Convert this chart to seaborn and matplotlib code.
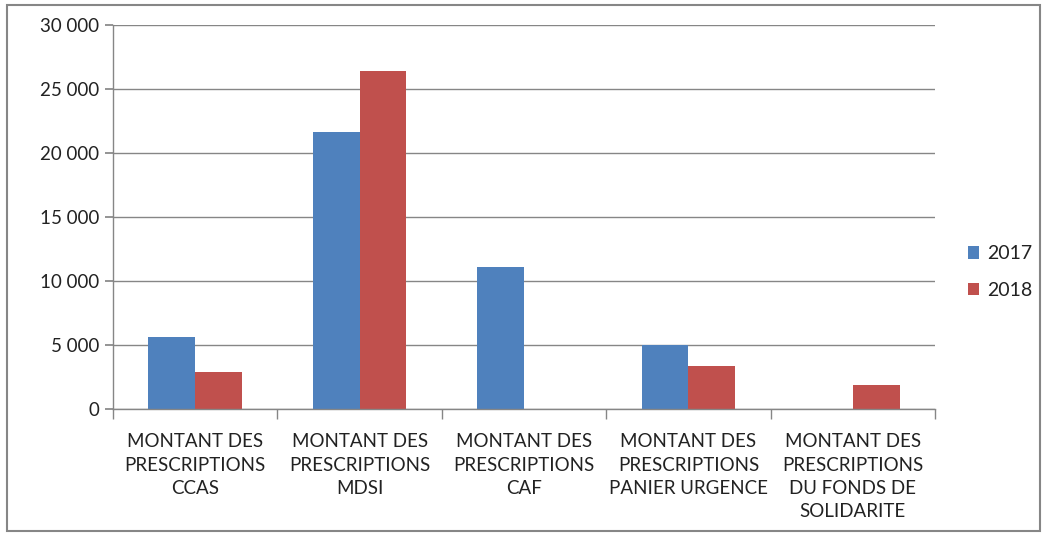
import matplotlib
matplotlib.use("Agg")
import matplotlib.pyplot as plt
import matplotlib.ticker as mticker
from matplotlib.patches import Rectangle
import seaborn as sns
import pandas as pd
import numpy as np

categories = [
    "MONTANT DES\nPRESCRIPTIONS\nCCAS",
    "MONTANT DES\nPRESCRIPTIONS\nMDSI",
    "MONTANT DES\nPRESCRIPTIONS\nCAF",
    "MONTANT DES\nPRESCRIPTIONS\nPANIER URGENCE",
    "MONTANT DES\nPRESCRIPTIONS\nDU FONDS DE\nSOLIDARITE",
]
values_2017 = [5650, 21640, 11060, 5000, 0]
values_2018 = [2910, 26420, 0, 3380, 1900]
series = ["2017", "2018"]
colors = ["#4F81BD", "#C0504D"]
y_ticks = [0, 5000, 10000, 15000, 20000, 25000, 30000]

df = pd.DataFrame({
    "cat": categories * 2,
    "year": [series[0]] * len(categories) + [series[1]] * len(categories),
    "val": values_2017 + values_2018,
})

sns.set_theme(style="white")
plt.rcParams["font.family"] = ["Lato", "DejaVu Sans"]

fig = plt.figure(figsize=(10.44, 5.36), dpi=100)
ax = fig.add_axes([113 / 1044, 1 - 409 / 536, (935 - 113) / 1044, (409 - 25) / 536])

sns.barplot(data=df, x="cat", y="val", hue="year", palette=colors, ax=ax,
            width=0.57, saturation=1, legend=True, linewidth=0)

ax.set_ylim(0, 30000)
ax.set_xlim(-0.5, len(categories) - 0.5)
ax.set_yticks(y_ticks)
ax.yaxis.set_major_formatter(mticker.FuncFormatter(lambda v, p: f"{int(v):,}".replace(",", " ")))
ax.grid(axis="y", color="#868686", linewidth=1.0)
ax.set_axisbelow(True)
ax.set_xlabel("")
ax.set_ylabel("")

for s in ["top", "right"]:
    ax.spines[s].set_visible(False)
for s in ["left", "bottom"]:
    ax.spines[s].set_color("#868686")
    ax.spines[s].set_linewidth(1.0)

ax.tick_params(axis="y", which="major", left=True, length=6, color="#868686",
               labelsize=13.5, labelcolor="#222222", pad=4)
ax.tick_params(axis="x", which="major", bottom=False, labelsize=13.5, labelcolor="#222222", pad=11.5)
ax.set_xticks(np.arange(-0.5, len(categories)), minor=True)
ax.tick_params(axis="x", which="minor", bottom=True, length=7, color="#868686", width=1)
plt.setp(ax.get_xticklabels(), linespacing=1.45)

leg = ax.legend(loc="center left", bbox_to_anchor=(950 / 1044, 1 - 272 / 536),
                bbox_transform=fig.transFigure, frameon=False, fontsize=14,
                handlelength=0.6, handleheight=0.6, handletextpad=0.4, labelspacing=1.0)
for t in leg.get_texts():
    t.set_color("#222222")

fig.patches.append(Rectangle((7 / 1044, 1 - 531 / 536), (1040 - 7) / 1044, (531 - 5) / 536,
                             transform=fig.transFigure, fill=False, edgecolor="#868686",
                             linewidth=1.5))

fig.savefig("out.png", dpi=100)
